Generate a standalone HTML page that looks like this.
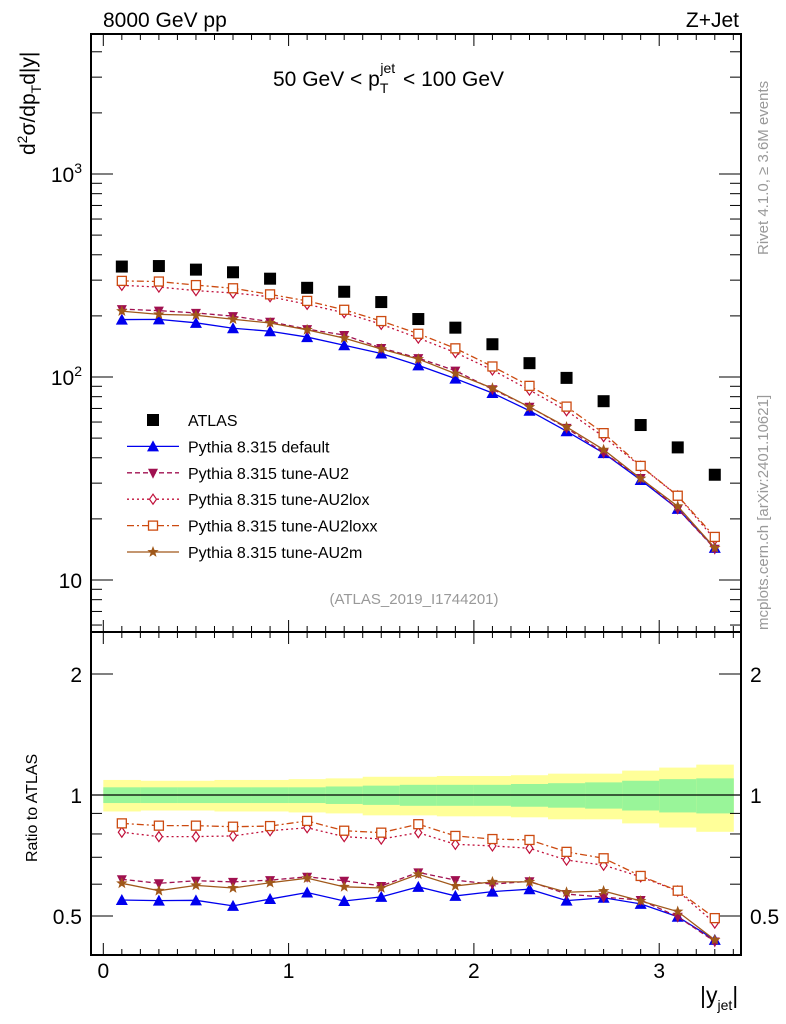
<!DOCTYPE html>
<html><head><meta charset="utf-8"><style>
body{margin:0;background:#fff;}
svg{display:block;font-family:"Liberation Sans",sans-serif;}
</style></head><body>
<svg id="c" width="786" height="1024" xmlns="http://www.w3.org/2000/svg"></svg>
<script>
const xCenters=[0.1,0.3,0.5,0.7,0.9,1.1,1.3,1.5,1.7,1.9,2.1,2.3,2.5,2.7,2.9,3.1,3.3];
const atlas=[350,352,338,328,305,275,263,234,193,175,145,117,99,76,58,45,33];
const errTot=[0.09,0.085,0.085,0.09,0.09,0.095,0.1,0.11,0.11,0.115,0.115,0.12,0.13,0.13,0.15,0.17,0.19];
const errStat=[0.045,0.045,0.045,0.045,0.045,0.045,0.05,0.055,0.06,0.06,0.06,0.065,0.07,0.075,0.085,0.095,0.1];
const rDefault=[0.548,0.546,0.547,0.530,0.551,0.572,0.545,0.558,0.591,0.561,0.575,0.583,0.546,0.555,0.536,0.498,0.436];
const rAU2=[0.617,0.603,0.612,0.608,0.614,0.626,0.612,0.594,0.642,0.614,0.600,0.610,0.567,0.557,0.548,0.498,0.432];
const rAU2lox=[0.808,0.788,0.788,0.791,0.815,0.829,0.788,0.777,0.806,0.754,0.747,0.737,0.689,0.669,0.626,0.577,0.480];
const rAU2loxx=[0.850,0.839,0.839,0.834,0.837,0.862,0.815,0.806,0.846,0.791,0.777,0.773,0.722,0.696,0.629,0.578,0.494];
const rAU2m=[0.603,0.578,0.596,0.587,0.605,0.621,0.591,0.587,0.635,0.594,0.608,0.608,0.573,0.577,0.545,0.513,0.436];

const NS='http://www.w3.org/2000/svg';
const svg=document.getElementById('c');
function mk(tag,at,parent){const e=document.createElementNS(NS,tag);for(const k in at)e.setAttribute(k,at[k]);(parent||svg).appendChild(e);return e;}
const L=91,R=741,T1=34,B1=632,B2=955;
const X=v=>103.3+185.3*v;
const Y1=v=>174-203*(Math.log10(v)-3);
const Y2=v=>795-402*Math.log10(v);

// bands
const bands=mk('g',{});


xCenters.forEach((c,i)=>{
  const x0=X(c-0.1),x1=X(c+0.1);
  const y=mk('rect',{x:x0,y:Y2(1+errTot[i]),width:x1-x0+0.5,height:Y2(1-errTot[i])-Y2(1+errTot[i]),fill:'#ffff99'},bands);
  
  
  const g=mk('rect',{x:x0,y:Y2(1+errStat[i]),width:x1-x0+0.5,height:Y2(1-errStat[i])-Y2(1+errStat[i]),fill:'#99f599'},bands);
  
  
});
const one=mk('line',{x1:L,x2:R,y1:Y2(1),y2:Y2(1),stroke:'#000','stroke-width':1.2});



// frames
const f1=mk('rect',{x:L,y:T1,width:R-L,height:B1-T1,fill:'none',stroke:'#000','stroke-width':2});


const f2=mk('rect',{x:L,y:B1,width:R-L,height:B2-B1,fill:'none',stroke:'#000','stroke-width':2});



// x ticks
const ax=mk('g',{stroke:'#000','stroke-width':1});


for(let k=0;k<=34;k++){
  const v=k/10,x=X(v),len=(k%10==0)?12:6;
  [[T1,1],[B1,-1],[B1,1],[B2,-1]].forEach(([y,d])=>mk('line',{x1:x,x2:x,y1:y,y2:y+d*len},ax));
}
['0','1','2','3'].forEach((t,i)=>{const e=mk('text',{x:X(i),y:978,'font-size':21,'text-anchor':'middle'});e.textContent=t;

});
// main y ticks
const ay=mk('g',{stroke:'#000','stroke-width':1});


for(let d=0;d<=3;d++)for(let m=1;m<=9;m++){
  const v=m*Math.pow(10,d),y=Y1(v);if(y<T1||y>B1)continue;
  const len=m==1?22:11;
  mk('line',{x1:L,x2:L+len,y1:y,y2:y},ay);mk('line',{x1:R,x2:R-len,y1:y,y2:y},ay);
}
[['10',10],['10²',100],['10³',1000]].forEach(([t,v])=>{
  const e=mk('text',{x:82,y:Y1(v)+8,'font-size':21,'text-anchor':'end'});
  
  
  if(v==10)e.textContent='10';else{e.textContent='10';const s=mk('tspan',{dy:-9,'font-size':14},e);s.textContent=v==100?'2':'3';}
});
// ratio y ticks
[0.5,0.6,0.7,0.8,0.9,1,2].forEach(v=>{
  const y=Y2(v),len=(v==0.5||v==1||v==2)?22:11;
  mk('line',{x1:L,x2:L+len,y1:y,y2:y},ay);mk('line',{x1:R,x2:R-len,y1:y,y2:y},ay);
});
[['0.5',0.5],['1',1],['2',2]].forEach(([t,v])=>{
  const a=mk('text',{x:82,y:Y2(v)+8,'font-size':21,'text-anchor':'end'});a.textContent=t;
  
  
  const b=mk('text',{x:750,y:Y2(v)+8,'font-size':21});b.textContent=t;
  
  
});

// series
function marker(type,x,y,col,g){
  let e;
  if(type=='sq')e=mk('rect',{x:x-6,y:y-6,width:12,height:12,fill:'#000'},g);
  else if(type=='tri')e=mk('polygon',{points:`${x},${y-6} ${x-6},${y+5} ${x+6},${y+5}`,fill:col},g);
  else if(type=='dtri')e=mk('polygon',{points:`${x},${y+6} ${x-5},${y-4} ${x+5},${y-4}`,fill:col},g);
  else if(type=='dia')e=mk('polygon',{points:`${x},${y-5} ${x-3.5},${y} ${x},${y+5} ${x+3.5},${y}`,fill:'#fff',stroke:col,'stroke-width':1.2},g);
  else if(type=='osq')e=mk('rect',{x:x-4.5,y:y-4.5,width:9,height:9,fill:'#fff',stroke:col,'stroke-width':1.3},g);
  else if(type=='star'){let p=[];for(let k=0;k<10;k++){const r=k%2?2.5:6,a=-Math.PI/2+k*Math.PI/5;p.push((x+r*Math.cos(a)).toFixed(1)+','+(y+r*Math.sin(a)).toFixed(1));}e=mk('polygon',{points:p.join(' '),fill:col},g);}
  
  
}
const series=[
 {name:'default',r:rDefault,col:'#0000ee',dash:'',m:'tri'},
 {name:'tune-AU2',r:rAU2,col:'#a01050',dash:'5,3',m:'dtri'},
 {name:'tune-AU2lox',r:rAU2lox,col:'#c0103a',dash:'2,3',m:'dia'},
 {name:'tune-AU2loxx',r:rAU2loxx,col:'#cc4a10',dash:'7,3,2,3',m:'osq'},
 {name:'tune-AU2m',r:rAU2m,col:'#a0581a',dash:'',m:'star'}
];
series.forEach(s=>{
  const g=mk('g',{});
  
  
  const p1=xCenters.map((c,i)=>X(c)+','+Y1(atlas[i]*s.r[i])).join(' ');
  const p2=xCenters.map((c,i)=>X(c)+','+Y2(s.r[i])).join(' ');
  const a={fill:'none',stroke:s.col,'stroke-width':1.3};if(s.dash)a['stroke-dasharray']=s.dash;
  mk('polyline',Object.assign({points:p1},a),g);
  mk('polyline',Object.assign({points:p2},a),g);
  xCenters.forEach((c,i)=>{marker(s.m,X(c),Y1(atlas[i]*s.r[i]),s.col,g);marker(s.m,X(c),Y2(s.r[i]),s.col,g);});
});
const ga=mk('g',{});


xCenters.forEach((c,i)=>marker('sq',X(c),Y1(atlas[i]),'#000',ga));

// legend
const lg=mk('g',{});


const ents=[['ATLAS',null],['Pythia 8.315 default',series[0]],['Pythia 8.315 tune-AU2',series[1]],['Pythia 8.315 tune-AU2lox',series[2]],['Pythia 8.315 tune-AU2loxx',series[3]],['Pythia 8.315 tune-AU2m',series[4]]];
ents.forEach(([t,s],i)=>{
  const y=420+26.4*i;
  const eg=mk('g',{},lg);
  
  
  if(!s)marker('sq',153,y,'#000',eg);
  else{const a={x1:127,x2:179,y1:y,y2:y,stroke:s.col,'stroke-width':1.3};if(s.dash)a['stroke-dasharray']=s.dash;mk('line',a,eg);marker(s.m,153,y,s.col,eg);}
  const tx=mk('text',{x:188,y:y+6,'font-size':16},eg);tx.textContent=t;
});

function txt(t,at,name){const e=mk('text',at);e.textContent=t;return e;}
txt('8000 GeV pp',{x:103,y:27,'font-size':21},'beam-label');
txt('Z+Jet',{x:739,y:27,'font-size':21,'text-anchor':'end'},'process-label');
const ti=txt('50 GeV < p',{x:273,y:86,'font-size':21},'plot-title');
const s1=mk('tspan',{dy:7,'font-size':14},ti);s1.textContent='T';
const s0=mk('tspan',{dx:-8,dy:-20,'font-size':14},ti);s0.textContent='jet';
const s2=mk('tspan',{dx:2,dy:13},ti);s2.textContent=' < 100 GeV';
txt('(ATLAS_2019_I1744201)',{x:414,y:604,'font-size':15,'text-anchor':'middle',fill:'#999'},'analysis-id');
const yl=txt('d',{x:0,y:0,'font-size':21,transform:'translate(35,155) rotate(-90)'},'y-axis-title');
[['2',-8,14],['σ/dp',8,21],['T',6,14],['d|y|',-6,21]].forEach(([t,dy,fs])=>{const s=mk('tspan',{dy:dy,'font-size':fs},yl);s.textContent=t;});
txt('Ratio to ATLAS',{x:0,y:0,'font-size':16,transform:'translate(37,862) rotate(-90)'},'ratio-axis-title');
const xl=txt('|y',{x:700,y:1003,'font-size':23},'x-axis-title');
const xs=mk('tspan',{dy:7,'font-size':14},xl);xs.textContent='jet';
const xe=mk('tspan',{dy:-7},xl);xe.textContent='|';
txt('Rivet 4.1.0, ≥ 3.6M events',{x:0,y:0,'font-size':15,fill:'#999',transform:'translate(768,255) rotate(-90)'},'rivet-label');
txt('mcplots.cern.ch [arXiv:2401.10621]',{x:0,y:0,'font-size':15,fill:'#999',transform:'translate(768,630) rotate(-90)'},'mcplots-label');
</script>
</body></html>
